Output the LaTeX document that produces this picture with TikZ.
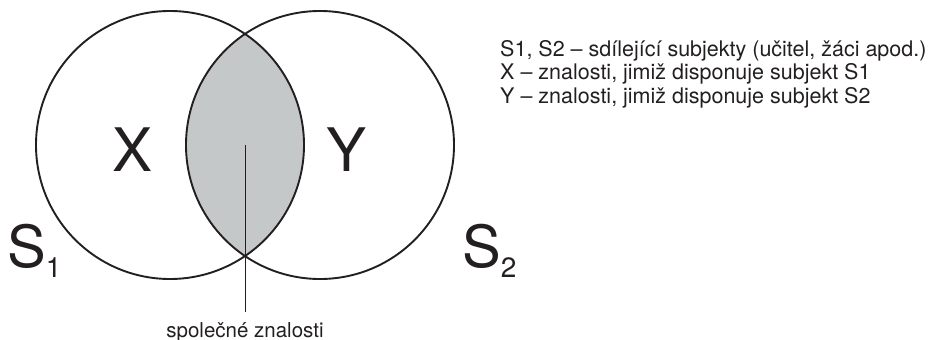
\documentclass[tikz,border=0pt]{standalone}
\usepackage{fontspec}
\setmainfont{TeX Gyre Heros}
\usetikzlibrary{positioning}
\definecolor{lensgray}{HTML}{C5C8C9}
\definecolor{inkgray}{HTML}{231F20}
\tikzset{
    setcirc/.style={circle, draw=inkgray, line width=1.9pt, minimum size=268pt, inner sep=0pt},
    biglabel/.style={text=inkgray, font=\fontsize{60}{60}\selectfont},
    setname/.style={text=inkgray, font=\fontsize{58}{58}\selectfont, inner sep=0pt},
    legend/.style={text=inkgray, font=\fontsize{21.5}{23.5}\selectfont, inner sep=0pt}
}
\newcommand{\setidx}[1]{\raisebox{-10pt}{\fontsize{28}{28}\selectfont #1}}
\begin{document}
\begin{tikzpicture}[x=1pt, y=-1pt]
\useasboundingbox (0,0) rectangle (929,340);

% --- Schnittmenge ---
\begin{scope}
    \clip (170,145) circle (134pt);
    \fill[lensgray] (320,145) circle (134pt);
\end{scope}

% --- Kreise S1, S2 ---
\node[setcirc] (setA) at (170,145) {};
\node[setcirc] (setB) at (320,145) {};

\node[biglabel] (lblX) at (133,150) {X};
\node[biglabel] (lblY) at (347,150) {Y};

\node[setname, anchor=base west] (nameA) at (7,267) {S\setidx{1}};
\node[setname, anchor=base west] (nameB) at (462,267) {S\setidx{2}};

% --- Beschriftung der Schnittmenge ---
\coordinate (lens) at (245,145);
\node[legend, font=\fontsize{20.5}{23}\selectfont, anchor=base] (shared) at (245,337) {společné znalosti};
\draw[inkgray, line width=0.9pt] (lens) -- ([yshift=10pt]shared.north);

% --- Legende ---
\node[legend, anchor=base west] (leg1) at (500,56) {S1, S2 – sdílející subjekty (učitel, žáci apod.)};
\node[legend, anchor=base west] (leg2) at ([yshift=-23.5pt]leg1.base west) {X – znalosti, jimiž disponuje subjekt S1};
\node[legend, anchor=base west] (leg3) at ([yshift=-23.5pt]leg2.base west) {Y – znalosti, jimiž disponuje subjekt S2};

\end{tikzpicture}
\end{document}
